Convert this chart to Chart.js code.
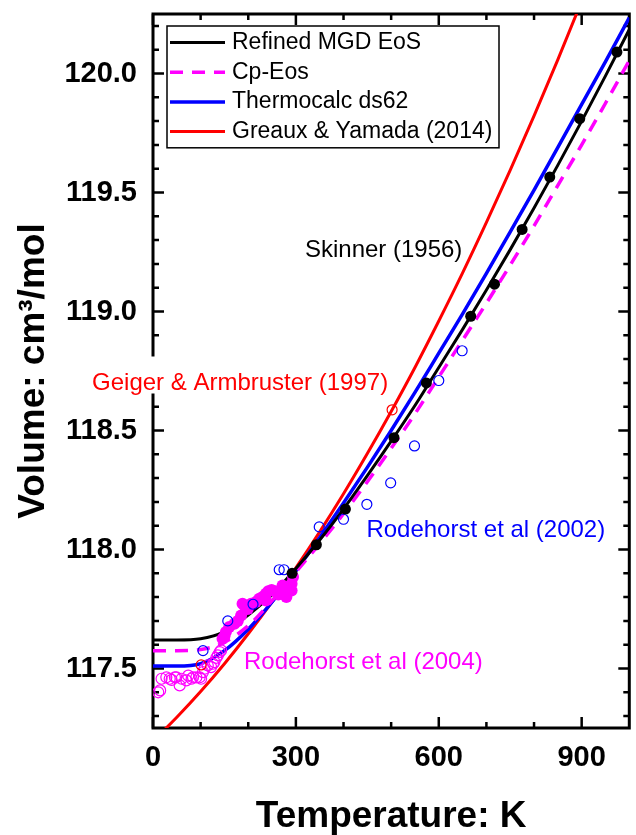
<!DOCTYPE html>
<html>
<head>
<meta charset="utf-8">
<title>Volume vs temperature</title>
<script src="https://cdn.jsdelivr.net/npm/chart.js@4.4.1/dist/chart.umd.min.js"></script>
<style>
  html, body { margin: 0; padding: 0; background: #fff; }
  canvas { display: block; }
</style>
</head>
<body>
<canvas id="eos" width="636" height="835"></canvas>
<script>
// temperature grid of the model curves (K)
const temps = [0, 50, 100, 150, 200, 250, 300, 350, 400, 450, 500,
  550, 600, 650, 700, 750, 800, 850, 900, 950, 1000];

// model volumes, cm3/mol
const mgdVol = [117.62, 117.62, 117.625, 117.655, 117.725, 117.81, 117.92, 118.04, 118.17, 118.31, 118.455,
  118.605, 118.765, 118.925, 119.09, 119.26, 119.435, 119.615, 119.80, 119.99, 120.185];
const cpVol = [117.575, 117.575, 117.58, 117.61, 117.68, 117.785, 117.905, 118.025, 118.15, 118.285, 118.425,
  118.57, 118.725, 118.88, 119.035, 119.195, 119.36, 119.53, 119.70, 119.875, 120.055];
const tcVol = [117.51, 117.51, 117.52, 117.575, 117.665, 117.78, 117.91, 118.05, 118.195, 118.345, 118.50,
  118.66, 118.825, 118.99, 119.16, 119.335, 119.51, 119.69, 119.87, 120.05, 120.235];
const gyVol = [117.195, 117.295, 117.403, 117.52, 117.646, 117.78, 117.923, 118.074, 118.234, 118.403, 118.58,
  118.765, 118.96, 119.162, 119.374, 119.594, 119.822, 120.058, 120.304, 120.559];

// measurements
const skinnerT = [292, 343, 404, 506, 574, 667, 717, 775, 833, 896, 974];
const skinnerV = [117.90, 118.02, 118.17, 118.47, 118.70, 118.98, 119.115, 119.345, 119.565, 119.81, 120.09];

const geigerT = [101, 502];
const geigerV = [117.515, 118.587];

const rod02T = [105, 157, 210, 265, 275, 349, 400, 449, 499, 549, 600, 649];
const rod02V = [117.575, 117.70, 117.77, 117.915, 117.915, 118.095, 118.127, 118.19, 118.28, 118.435, 118.71, 118.835];

// Rodehorst 2004: filled above ~145 K, open below
const rod04T = [146, 150, 153, 160, 171, 178, 185, 188, 192, 199, 206, 216, 223, 230, 237, 237,
  242, 249, 256, 263, 270, 272, 277, 280, 284, 291, 291, 294];
const rod04V = [117.625, 117.635, 117.653, 117.674, 117.688, 117.70, 117.723, 117.772, 117.765, 117.75, 117.772,
  117.779, 117.793, 117.80, 117.814, 117.786, 117.825, 117.83, 117.825, 117.811, 117.814, 117.849,
  117.828, 117.80, 117.835, 117.828, 117.856, 117.884];
const rod04LowT = [11, 15, 18, 28, 35, 39, 46, 49, 56, 60, 70, 74, 81, 84, 91, 98, 101, 105,
  108, 115, 122, 126, 129, 133, 136, 140, 143];
const rod04LowV = [117.40, 117.408, 117.457, 117.463, 117.457, 117.452, 117.463, 117.463, 117.429, 117.457,
  117.45, 117.47, 117.457, 117.463, 117.463, 117.463, 117.457, 117.485, 117.499, 117.513, 117.506,
  117.52, 117.527, 117.545, 117.555, 117.569, 117.576];

// axes
const xTicks = [0, 300, 600, 900];
const yTicks = [117.5, 118.0, 118.5, 119.0, 119.5, 120.0];
const X_MIN = 0, X_MAX = 1000, X_MINOR = 100;
const Y_MIN = 117.25, Y_MAX = 120.25;

const FONT = "'Liberation Sans', Arial, Helvetica, sans-serif";

const pts = (xs, ys) => xs.map((t, i) => ({ x: t, y: ys[i] }));

// text placed on the plot, anchored in data units (left edge, middle)
const notes = [
  { text: 'Skinner (1956)', t: 319, v: 119.256, color: '#000' },
  { text: 'Geiger & Armbruster (1997)', t: -128, v: 118.6975, color: '#ff0000', knockout: true },
  { text: 'Rodehorst et al (2002)', t: 448, v: 118.08, color: '#0000ff' },
  { text: 'Rodehorst et al (2004)', t: 191, v: 117.525, color: '#ff00ff' },
];

Chart.defaults.font.family = FONT;
Chart.defaults.color = '#000';

// box frame with inward ticks on all four sides
const framePlugin = {
  id: 'frame',
  beforeDatasetsDraw(chart) {
    const { ctx, chartArea: a, scales: { x, y } } = chart;
    ctx.save();
    ctx.strokeStyle = '#000';
    ctx.lineWidth = 2.5;
    ctx.beginPath();
    for (let t = X_MIN; t < X_MAX; t += X_MINOR) {
      const px = x.getPixelForValue(t);
      const len = xTicks.includes(t) ? 11 : 6;
      ctx.moveTo(px, a.bottom); ctx.lineTo(px, a.bottom - len);
      ctx.moveTo(px, a.top); ctx.lineTo(px, a.top + len);
    }
    for (let k = Math.ceil(Y_MIN * 10); k <= Math.floor(Y_MAX * 10); k++) {
      const py = y.getPixelForValue(k / 10);
      const len = k % 5 === 0 ? 11 : 6;
      ctx.moveTo(a.left, py); ctx.lineTo(a.left + len, py);
      ctx.moveTo(a.right, py); ctx.lineTo(a.right - len, py);
    }
    ctx.stroke();
    ctx.lineWidth = 3;
    ctx.strokeRect(a.left, a.top, a.right - a.left, a.bottom - a.top);
    ctx.restore();
  },
};

// source labels and the legend box
const notesPlugin = {
  id: 'notes',
  afterDatasetsDraw(chart) {
    const { ctx, chartArea: a, scales: { x, y } } = chart;
    ctx.save();
    ctx.textBaseline = 'middle';
    ctx.textAlign = 'left';
    ctx.font = `24px ${FONT}`;
    notes.forEach((n) => {
      const px = x.getPixelForValue(n.t);
      const py = y.getPixelForValue(n.v);
      if (n.knockout) {
        const w = ctx.measureText(n.text).width;
        ctx.fillStyle = '#fff';
        ctx.fillRect(px - 4, py - 27, w + 8, 37);
      }
      ctx.fillStyle = n.color;
      ctx.fillText(n.text, px, py);
    });

    // legend: one row per model curve
    const lines = chart.data.datasets.filter(d => d.showLine);
    const bx = a.left + 14, by = a.top + 12, bw = 332, rowH = 29.7;
    const bh = rowH * lines.length + 3;
    ctx.fillStyle = '#fff';
    ctx.fillRect(bx, by, bw, bh);
    ctx.strokeStyle = '#000';
    ctx.lineWidth = 1.5;
    ctx.strokeRect(bx, by, bw, bh);
    ctx.font = `23px ${FONT}`;
    lines.forEach((d, i) => {
      const ry = by + 16.5 + i * rowH;
      ctx.beginPath();
      ctx.strokeStyle = d.borderColor;
      ctx.lineWidth = d.borderWidth;
      ctx.setLineDash(d.borderDash || []);
      ctx.moveTo(bx + 3, ry);
      ctx.lineTo(bx + 58, ry);
      ctx.stroke();
      ctx.setLineDash([]);
      ctx.fillStyle = '#000';
      ctx.fillText(d.label, bx + 65, ry);
    });
    ctx.restore();
  },
};

const curve = (label, xs, ys, color, width, dash) => ({
  label,
  data: pts(xs, ys),
  showLine: true,
  borderColor: color,
  borderWidth: width,
  borderDash: dash,
  pointRadius: 0,
  cubicInterpolationMode: 'monotone',
});

const marks = (label, xs, ys, color, filled, r) => ({
  label,
  data: pts(xs, ys),
  showLine: false,
  pointRadius: r,
  pointBackgroundColor: filled ? color : 'rgba(255,255,255,0)',
  pointBorderColor: color,
  pointBorderWidth: filled ? 0 : 1.2,
});

// first dataset is drawn on top
const datasets = [
  marks('Skinner (1956)', skinnerT, skinnerV, '#000', true, 5.5),
  marks('Geiger & Armbruster (1997)', geigerT, geigerV, '#ff0000', false, 5),
  marks('Rodehorst et al (2002)', rod02T, rod02V, '#0000ff', false, 5),
  marks('Rodehorst et al (2004)', rod04T, rod04V, '#ff00ff', true, 6),
  marks('Rodehorst et al (2004) low T', rod04LowT, rod04LowV, '#ff00ff', false, 5.5),
  curve('Refined MGD EoS', temps, mgdVol, '#000000', 3, undefined),
  curve('Cp-Eos', temps, cpVol, '#ff00ff', 3.5, [13, 9]),
  curve('Thermocalc ds62', temps, tcVol, '#0000ff', 3.5, undefined),
  // red curve stops at 950 K, above the frame
  curve('Greaux & Yamada (2014)', temps.slice(0, gyVol.length), gyVol, '#ff0000', 3, undefined),
];

new Chart(document.getElementById('eos'), {
  type: 'scatter',
  data: { datasets },
  options: {
    responsive: false,
    animation: false,
    devicePixelRatio: 1,
    events: [],
    layout: { padding: { top: 14, right: 4, left: 0, bottom: 0 } },
    plugins: { legend: { display: false }, tooltip: { enabled: false } },
    scales: {
      x: {
        type: 'linear',
        position: 'bottom',
        min: X_MIN,
        max: X_MAX,
        afterBuildTicks: (s) => { s.ticks = xTicks.map(v => ({ value: v })); },
        afterFit: (s) => { s.height = 107; s.paddingLeft = 0; s.paddingRight = 0; },
        grid: { display: false, drawTicks: false },
        border: { display: false },
        ticks: { font: { size: 29, weight: 'bold', lineHeight: 1 }, padding: 15.5, color: '#000' },
        title: {
          display: true,
          text: 'Temperature: K',
          font: { size: 37, weight: 'bold', lineHeight: 1 },
          padding: { top: 0, bottom: 0 },
          color: '#000',
        },
      },
      y: {
        type: 'linear',
        position: 'left',
        min: Y_MIN,
        max: Y_MAX,
        afterBuildTicks: (s) => { s.ticks = yTicks.map(v => ({ value: v })); },
        afterFit: (s) => { s.width = 153; s.paddingTop = 0; s.paddingBottom = 0; },
        grid: { display: false, drawTicks: false },
        border: { display: false },
        ticks: {
          font: { size: 29, weight: 'bold', lineHeight: 1 },
          padding: 16,
          color: '#000',
          callback: v => v.toFixed(1),
        },
        title: {
          display: true,
          text: 'Volume: cm³/mol',
          font: { size: 37, weight: 'bold', lineHeight: 1 },
          padding: { top: 15, bottom: 0 },
          color: '#000',
        },
      },
    },
  },
  plugins: [framePlugin, notesPlugin],
});
</script>
</body>
</html>
